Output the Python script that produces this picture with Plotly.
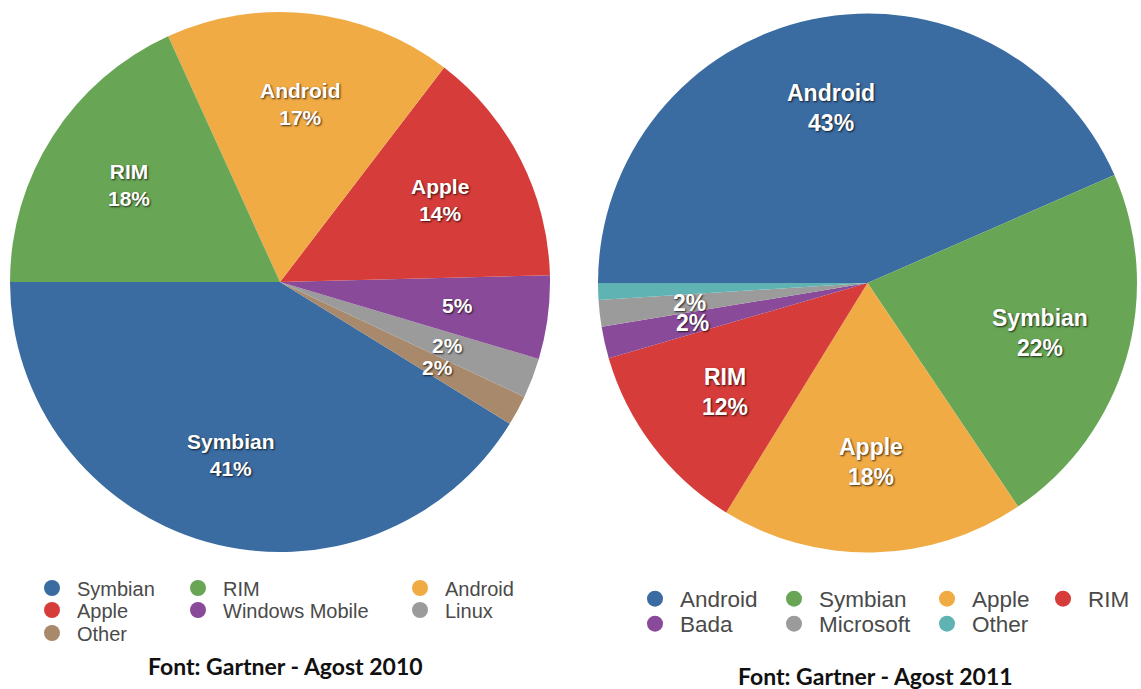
import math
import plotly.graph_objects as go

W, H = 1141, 689

# ---------------- data ----------------
labels_2010 = ["Symbian", "Other", "Linux", "Windows Mobile", "Apple", "Android", "RIM"]
values_2010 = [41.2, 1.8, 2.4, 5.0, 14.2, 17.2, 18.2]
colors_2010 = ["#3a6ba1", "#a8896b", "#9b9b9b", "#8a4a9a", "#d63c3a", "#f0ab45", "#68a656"]
name_on_2010 = [True, False, False, False, True, True, True]
pct_on_2010 = [True, True, True, True, True, True, True]
legend_order_2010 = ["Symbian", "RIM", "Android", "Apple", "Windows Mobile", "Linux", "Other"]

labels_2011 = ["Android", "Symbian", "Apple", "RIM", "Bada", "Microsoft", "Other"]
values_2011 = [43.4, 22.1, 18.2, 11.7, 1.9, 1.6, 1.0]
colors_2011 = ["#3a6ba1", "#68a656", "#f0ab45", "#d63c3a", "#8a4a9a", "#9b9b9b", "#5fb4b3"]
name_on_2011 = [True, True, True, True, False, False, False]
pct_on_2011 = [True, True, True, True, True, True, False]
legend_order_2011 = ["Android", "Symbian", "Apple", "RIM", "Bada", "Microsoft", "Other"]

caption_2010 = "Font: Gartner - Agost 2010"
caption_2011 = "Font: Gartner - Agost 2011"

# ---------------- layout (pixels) ----------------
pie_2010 = dict(x0=10, x1=550, y0=12, y1=552, direction="counterclockwise", label_size=21)
pie_2011 = dict(x0=598, x1=1137, y0=13, y1=553, direction="clockwise", label_size=23)
legend_pos_2010 = [(52, 588), (198, 588), (420, 588), (52, 610), (198, 610), (420, 610), (52, 633)]
legend_pos_2011 = [(655, 599), (794, 599), (947, 599), (1063, 599), (655, 624), (794, 624), (947, 624)]

fig = go.Figure()
annotations = []


def add_pie(labels, values, colors, name_on, pct_on, cfg):
    total = sum(values)
    # first slice starts at 9 o'clock (plotly angle 270, measured clockwise from 12 o'clock)
    if cfg["direction"] == "counterclockwise":
        rot = 270 - 360 * values[0] / total
    else:
        rot = -90
    fig.add_trace(go.Pie(
        labels=labels, values=values, sort=False, direction=cfg["direction"], rotation=rot,
        marker=dict(colors=colors, line=dict(width=0)), textinfo="none", hoverinfo="label+percent",
        showlegend=False,
        domain=dict(x=[cfg["x0"] / W, cfg["x1"] / W], y=[1 - cfg["y1"] / H, 1 - cfg["y0"] / H]),
    ))
    cx = (cfg["x0"] + cfg["x1"]) / 2
    cy = (cfg["y0"] + cfg["y1"]) / 2
    R = min(cfg["x1"] - cfg["x0"], cfg["y1"] - cfg["y0"]) / 2
    sign = 1 if cfg["direction"] == "counterclockwise" else -1
    cum = 0
    for lab, v, sn, sp in zip(labels, values, name_on, pct_on):
        mid = 180 + sign * 360 * (cum + v / 2) / total
        cum += v
        if not sp:
            continue
        r = 0.665 * R
        px = cx + r * math.cos(math.radians(mid))
        py = cy - r * math.sin(math.radians(mid))
        txt = f"{round(v)}%"
        if sn:
            txt = f"{lab}<br>{txt}"
        annotations.append(dict(
            x=px / W, y=1 - py / H, xref="paper", yref="paper", text=txt, showarrow=False,
            xanchor="center", yanchor="middle", align="center",
            font=dict(family="Liberation Sans, Arial", size=cfg["label_size"], color="white",
                      weight="bold", shadow="1px 1px 2px rgba(0,0,0,0.75)"),
        ))


add_pie(labels_2010, values_2010, colors_2010, name_on_2010, pct_on_2010, pie_2010)
add_pie(labels_2011, values_2011, colors_2011, name_on_2011, pct_on_2011, pie_2011)

legend_layouts = {}
idx = 0


def add_legend(order, labels, colors, positions, fsize):
    global idx
    for lab, (mx, my) in zip(order, positions):
        idx += 1
        lname = "legend" if idx == 1 else f"legend{idx}"
        col = colors[labels.index(lab)]
        fig.add_trace(go.Scatter(
            x=[None], y=[None], mode="markers", name=lab, legend=lname,
            marker=dict(symbol="circle", size=16, color=col), hoverinfo="skip",
        ))
        legend_layouts[lname] = dict(
            x=(mx - 25) / W, y=1 - my / H, xanchor="left", yanchor="middle",
            bgcolor="rgba(0,0,0,0)", itemwidth=40,
            font=dict(family="Liberation Sans, Arial", size=fsize, color="#4a4a4a"),
        )


add_legend(legend_order_2010, labels_2010, colors_2010, legend_pos_2010, 20)
add_legend(legend_order_2011, labels_2011, colors_2011, legend_pos_2011, 22.5)

annotations.append(dict(x=285 / W, y=1 - 666 / H, xref="paper", yref="paper", text=caption_2010,
                        showarrow=False, xanchor="center", yanchor="middle",
                        font=dict(family="Lato", size=23, color="#111", weight="bold")))
annotations.append(dict(x=875 / W, y=1 - 676 / H, xref="paper", yref="paper", text=caption_2011,
                        showarrow=False, xanchor="center", yanchor="middle",
                        font=dict(family="Lato", size=23, color="#111", weight="bold")))

fig.update_layout(
    width=W, height=H, margin=dict(l=0, r=0, t=0, b=0),
    paper_bgcolor="white", plot_bgcolor="white",
    xaxis=dict(visible=False, domain=[0, 0.01]), yaxis=dict(visible=False, domain=[0, 0.01]),
    annotations=annotations, showlegend=True,
    **legend_layouts,
)

fig.write_html("out.html")
